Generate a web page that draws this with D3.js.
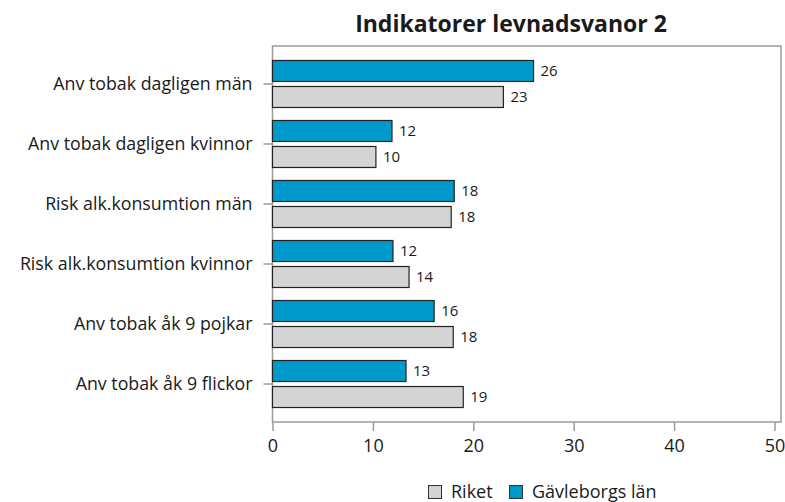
<!DOCTYPE html>
<html>
<head>
<meta charset="utf-8">
<script src="https://cdn.jsdelivr.net/npm/d3@7"></script>
<style>
  body { margin: 0; background: #fff; }
  text { font-family: "Open Sans", "Noto Sans", sans-serif; fill: #1a1a1a; }
</style>
</head>
<body>
<div id="chart"></div>
<script>
var categories = [
  "Anv tobak dagligen män",
  "Anv tobak dagligen kvinnor",
  "Risk alk.konsumtion män",
  "Risk alk.konsumtion kvinnor",
  "Anv tobak åk 9 pojkar",
  "Anv tobak åk 9 flickor"
];
var gavleborg = [26, 11.9, 18.1, 12, 16.1, 13.3];
var riket = [23, 10.3, 17.8, 13.6, 18, 19];
var gavleborgLabels = ["26", "12", "18", "12", "16", "13"];
var riketLabels = ["23", "10", "18", "14", "18", "19"];
var xTicks = [0, 10, 20, 30, 40, 50];
var seriesNames = ["Riket", "Gävleborgs län"];

var width = 785, height = 502;
var plotLeft = 272.5, plotRight = 781, plotTop = 46, plotBottom = 422;
var blue = "#0099cc", grey = "#d4d4d4";

var svg = d3.select( "#chart" )
  .append( "svg" )
  .attr( "width", width )
  .attr( "height", height );

var x = d3.scaleLinear().domain( [0, 50] ).range( [plotLeft, 774.5] );
var y = d3.scaleBand().domain( categories ).range( [plotTop, plotBottom] ).paddingOuter( 0.133 );

// title
svg.append( "text" )
  .attr( "x", 511 )
  .attr( "y", 32 )
  .attr( "text-anchor", "middle" )
  .style( "font-size", "23px" )
  .style( "font-weight", "bold" )
  .text( "Indikatorer levnadsvanor 2" );

// plot frame
svg.append( "rect" )
  .attr( "x", plotLeft )
  .attr( "y", plotTop )
  .attr( "width", plotRight - plotLeft )
  .attr( "height", plotBottom - plotTop )
  .attr( "fill", "none" )
  .attr( "stroke", "#9a9a9a" )
  .attr( "stroke-width", 1.5 );

// x axis
var xAxis = svg.append( "g" )
  .attr( "transform", "translate(0," + plotBottom + ")" )
  .call( d3.axisBottom( x ).tickValues( xTicks ).tickSize( 9 ).tickSizeOuter( 0 ) );
xAxis.select( ".domain" ).remove();
xAxis.selectAll( "line" ).attr( "stroke", "#9a9a9a" ).attr( "stroke-width", 1.5 );
xAxis.selectAll( "text" )
  .attr( "dy", "1.0em" )
  .style( "font-size", "18px" )
  .style( "font-family", "'Open Sans', 'Noto Sans', sans-serif" )
  .attr( "fill", "#1a1a1a" );

// y axis
var yAxis = svg.append( "g" )
  .attr( "transform", "translate(" + plotLeft + ",0)" )
  .call( d3.axisLeft( y ).tickSize( 9 ).tickPadding( 11 ).tickSizeOuter( 0 ) );
yAxis.select( ".domain" ).remove();
yAxis.selectAll( "line" ).attr( "stroke", "#9a9a9a" ).attr( "stroke-width", 1.5 );
yAxis.selectAll( "text" )
  .style( "font-size", "17.8px" )
  .style( "font-family", "'Open Sans', 'Noto Sans', sans-serif" )
  .attr( "fill", "#1a1a1a" );

var barH = 21, gap = 2.5;

var groups = svg.selectAll( ".cat" )
  .data( categories )
  .enter()
  .append( "g" )
  .attr( "class", "cat" );

groups.append( "rect" )
  .attr( "x", plotLeft )
  .attr( "y", function( d ){ return y( d ) + y.bandwidth() / 2 - gap - barH; } )
  .attr( "width", function( d, i ){ return x( gavleborg[i] ) - plotLeft; } )
  .attr( "height", barH )
  .attr( "fill", blue )
  .attr( "stroke", "#222" )
  .attr( "stroke-width", 1.2 );

groups.append( "rect" )
  .attr( "x", plotLeft )
  .attr( "y", function( d ){ return y( d ) + y.bandwidth() / 2 + gap; } )
  .attr( "width", function( d, i ){ return x( riket[i] ) - plotLeft; } )
  .attr( "height", barH )
  .attr( "fill", grey )
  .attr( "stroke", "#222" )
  .attr( "stroke-width", 1.2 );

groups.append( "text" )
  .attr( "x", function( d, i ){ return x( gavleborg[i] ) + 7; } )
  .attr( "y", function( d ){ return y( d ) + y.bandwidth() / 2 - gap - barH / 2; } )
  .attr( "dy", "0.36em" )
  .style( "font-size", "15px" )
  .text( function( d, i ){ return gavleborgLabels[i]; } );

groups.append( "text" )
  .attr( "x", function( d, i ){ return x( riket[i] ) + 7; } )
  .attr( "y", function( d ){ return y( d ) + y.bandwidth() / 2 + gap + barH / 2; } )
  .attr( "dy", "0.36em" )
  .style( "font-size", "15px" )
  .text( function( d, i ){ return riketLabels[i]; } );

// legend
var legendX = [428, 509];
var legendColors = [grey, blue];
var legend = svg.selectAll( ".legend" )
  .data( seriesNames )
  .enter()
  .append( "g" )
  .attr( "class", "legend" )
  .attr( "transform", function( d, i ){ return "translate(" + legendX[i] + ",485)"; } );

legend.append( "rect" )
  .attr( "x", 0.5 )
  .attr( "y", 0.5 )
  .attr( "width", 13 )
  .attr( "height", 13 )
  .attr( "fill", function( d, i ){ return legendColors[i]; } )
  .attr( "stroke", "#333" )
  .attr( "stroke-width", 1 );

legend.append( "text" )
  .attr( "x", 23 )
  .attr( "y", 7 )
  .attr( "dy", "0.36em" )
  .style( "font-size", "18px" )
  .text( function( d ){ return d; } );
</script>
</body>
</html>
